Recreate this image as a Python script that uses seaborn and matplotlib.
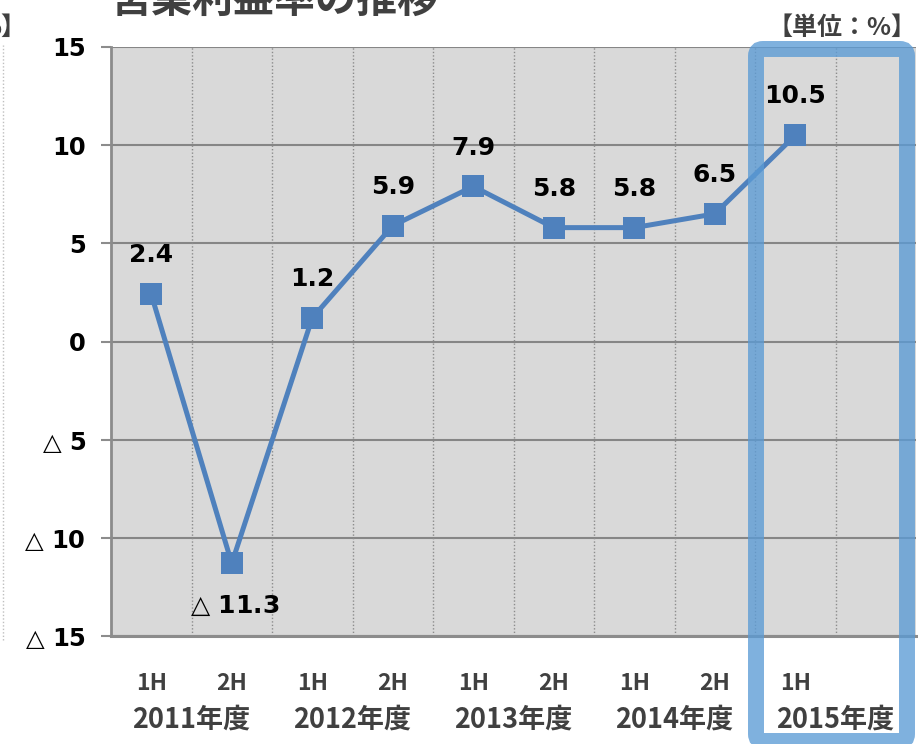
import matplotlib
matplotlib.use("Agg")
import matplotlib.pyplot as plt
import seaborn as sns
import numpy as np
import pandas as pd
from matplotlib.patches import FancyBboxPatch
from matplotlib.transforms import IdentityTransform
from matplotlib.lines import Line2D

# ---- data ----
halves = ["1H", "2H", "1H", "2H", "1H", "2H", "1H", "2H", "1H", ""]
years = ["2011年度", "2012年度", "2013年度", "2014年度", "2015年度"]
margin = [2.4, -11.3, 1.2, 5.9, 7.9, 5.8, 5.8, 6.5, 10.5, np.nan]
yticks = [15, 10, 5, 0, -5, -10, -15]
title = "営業利益率の推移"
unit = "【単位：%】"

df = pd.DataFrame({"pos": np.arange(len(halves)), "margin": margin})

sns.set_theme(style="white")
plt.rcParams["font.family"] = ["DejaVu Sans", "Noto Sans CJK JP"]
plt.rcParams["mathtext.fontset"] = "dejavusans"

W, H = 918, 744
fig = plt.figure(figsize=(W / 100, H / 100), dpi=100)
ax = fig.add_axes([111 / W, 1 - 636 / H, 805 / W, (636 - 47) / H])
ax.set_facecolor("#d9d9d9")

line_color = "#4f81bd"
sns.lineplot(data=df, x="pos", y="margin", ax=ax, color=line_color,
             linewidth=3.6, marker="s", markersize=16, markeredgewidth=0,
             zorder=3)

ax.set_xlim(-0.5, len(halves) - 0.5)
ax.set_ylim(-15, 15)

# horizontal grid
for yv in yticks:
    ax.axhline(yv, color="#868686", linewidth=1.5, zorder=1)
# vertical dotted category separators
for xv in np.arange(0.5, len(halves) - 0.5, 1.0):
    ax.axvline(xv, color="#8c8c8c", linewidth=1.0, linestyle=(0, (1, 1.5)), zorder=1)

for s in ["top", "right"]:
    ax.spines[s].set_visible(False)
ax.spines["left"].set_color("#8c8c8c")
ax.spines["left"].set_linewidth(2)
ax.spines["bottom"].set_color("#8c8c8c")
ax.spines["bottom"].set_linewidth(2.2)
ax.set_xlabel("")
ax.set_ylabel("")

def fmt(v):
    if v < 0:
        return r"$\bigtriangleup$ " + f"{abs(v):g}"
    return f"{v:g}"

ax.set_yticks(yticks)
ax.set_yticklabels([fmt(v) for v in yticks], fontsize=17.5, fontweight="bold",
                   color="black")
ax.tick_params(axis="y", left=True, length=7, width=1.5, color="#8c8c8c", pad=11)
ax.set_xticks([])

# data labels
for i, v in enumerate(margin):
    if np.isnan(v):
        continue
    off = 28 if v >= 0 else -31
    label = fmt(round(v, 1))
    ax.annotate(label, (i, v), xytext=(2 if v < 0 else 0, off),
                textcoords="offset points", ha="center", va="center",
                fontsize=18, fontweight="bold", color="black", zorder=4)

# x labels: halves and fiscal years
for i, h in enumerate(halves):
    if h:
        ax.annotate(h, (i, 0), xycoords=("data", "axes fraction"),
                    xytext=(0, -34), textcoords="offset points",
                    ha="center", va="center", fontsize=16.5, fontweight="bold",
                    color="#404040", family=["Noto Sans CJK JP"], annotation_clip=False)
for j, y in enumerate(years):
    ax.annotate(y, (2 * j + 0.5, 0), xycoords=("data", "axes fraction"),
                xytext=(0, -60), textcoords="offset points",
                ha="center", va="center", fontsize=19.5, fontweight="bold",
                color="#404040", family=["Noto Sans CJK JP"], annotation_clip=False)

# highlight box around 2015
box = FancyBboxPatch((756, 3), 907 - 756, 695 - 3,
                     boxstyle="round,pad=0,rounding_size=7",
                     transform=IdentityTransform(), facecolor="none",
                     edgecolor="#5b9bd5", linewidth=11.5, alpha=0.78,
                     clip_on=False, zorder=5)
ax.add_artist(box)

# titles
fig.text(275 / W, 1 - 13 / H, title, ha="center", va="baseline", fontsize=29.5,
         fontweight="bold", color="#404040", family=["Noto Sans CJK JP"])
fig.text(917 / W, 1 - 28 / H, unit, ha="right", va="center", fontsize=18,
         fontweight="bold", color="#404040", family=["Noto Sans CJK JP"])
fig.text(26 / W, 1 - 28 / H, "%】", ha="right", va="center", fontsize=18,
         fontweight="bold", color="#404040", family=["Noto Sans CJK JP"])
fig.add_artist(Line2D([3 / W, 3 / W], [1 - 640 / H, 1 - 45 / H],
                      transform=fig.transFigure, color="#bfbfbf",
                      linewidth=1, linestyle=(0, (1, 1.5))))

fig.savefig("out.png", dpi=100)
